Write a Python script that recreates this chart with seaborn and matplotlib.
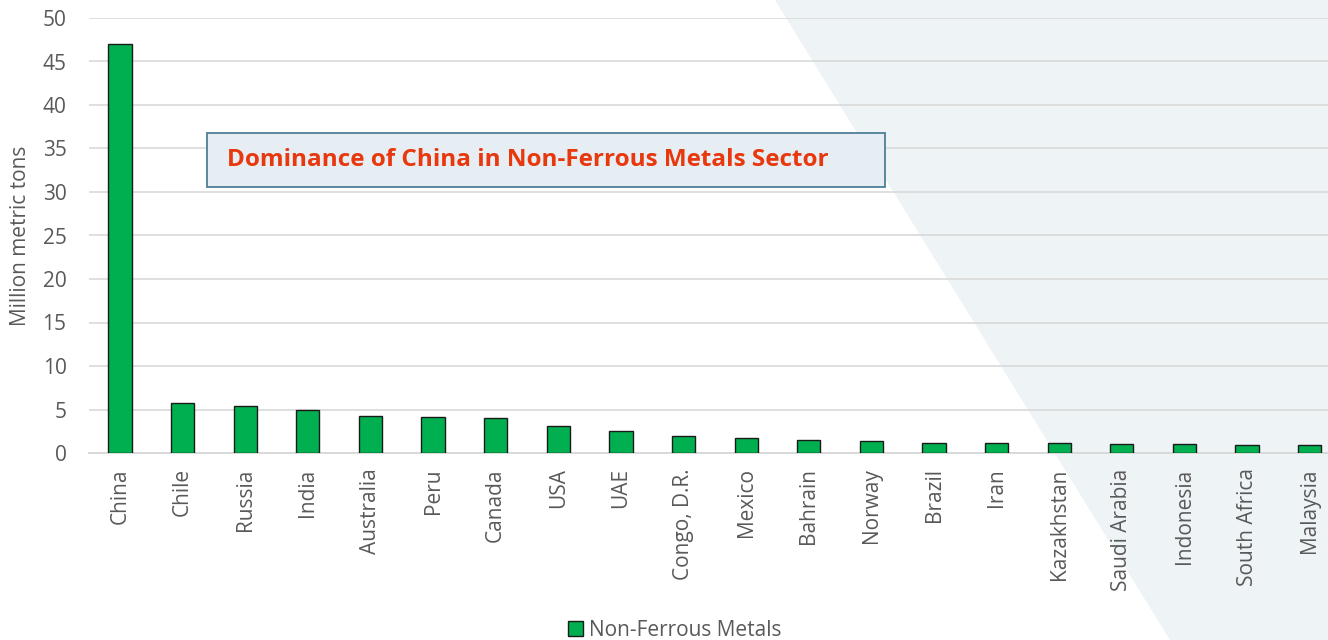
import pandas as pd
import numpy as np
import matplotlib.pyplot as plt
import seaborn as sns
from matplotlib.patches import Polygon, Rectangle

# data
countries = ["China", "Chile", "Russia", "India", "Australia", "Peru", "Canada", "USA", "UAE",
             "Congo, D.R.", "Mexico", "Bahrain", "Norway", "Brazil", "Iran", "Kazakhstan",
             "Saudi Arabia", "Indonesia", "South Africa", "Malaysia"]
production = [47.0, 5.7, 5.4, 5.0, 4.25, 4.1, 4.0, 3.1, 2.5,
              1.9, 1.7, 1.5, 1.35, 1.2, 1.1, 1.1,
              1.05, 1.0, 0.95, 0.9]
series_name = "Non-Ferrous Metals"
y_ticks = [0, 5, 10, 15, 20, 25, 30, 35, 40, 45, 50]

df = pd.DataFrame({"Country": countries, "Production": production})

sns.set_style("white")
plt.rcParams["font.family"] = ["Open Sans", "DejaVu Sans"]

fig = plt.figure(figsize=(13.28, 6.4), dpi=100)
fig.patch.set_facecolor("white")

# light diagonal panel behind the right side of the chart
W, H = 1328, 640
bg = Polygon([(775 / W, 1), (1, 1), (1, 0), (1170 / W, 0)], closed=True,
             transform=fig.transFigure, facecolor="#EEF3F6", edgecolor="none", zorder=0)
fig.patches.append(bg)

ax = fig.add_axes([88.7 / W, (640 - 453) / H, (1341 - 88.7) / W, (453 - 18) / H])
ax.set_facecolor("none")
ax.set_zorder(1)

sns.barplot(data=df, x="Country", y="Production", color="#00B050", width=0.37,
            edgecolor="#1a1a1a", linewidth=1.0, saturation=1, ax=ax, zorder=3)

ax.set_ylim(0, 50)
ax.set_xlim(-0.5, len(countries) - 0.5)
ax.set_yticks(y_ticks)
ax.yaxis.grid(True, color="#D9D9D9", linewidth=1.2, zorder=0)
ax.set_axisbelow(True)
for s in ["left", "right", "top"]:
    ax.spines[s].set_visible(False)
ax.spines["bottom"].set_color("#D9D9D9")
ax.spines["bottom"].set_linewidth(1.4)

ax.tick_params(axis="x", length=0, pad=11, labelsize=15, labelcolor="#595959", labelrotation=90)
ax.tick_params(axis="y", length=0, pad=16, labelsize=15, labelcolor="#595959")
ax.set_xlabel("")
ax.set_ylabel("Million metric tons", fontsize=15, color="#595959")
ax.yaxis.set_label_coords(-58 / (1341 - 88.7), 0.5)

# annotation box
box = Rectangle((207 / W, (640 - 187) / H), (885 - 207) / W, (187 - 133) / H,
                transform=fig.transFigure, facecolor="#E6EEF4", edgecolor="#4E7E98",
                linewidth=1.3, zorder=5)
fig.patches.append(box)
fig.text(227 / W, (640 - 160) / H, "Dominance of China in Non-Ferrous Metals Sector",
         color="#E8380D", fontsize=17.5, fontweight="bold", va="center", ha="left", zorder=6)

# legend at the bottom
handle = Rectangle((0, 0), 1, 1, facecolor="#00B050", edgecolor="#1a1a1a", linewidth=1.0)
fig.legend([handle], [series_name], loc="center", bbox_to_anchor=(675 / W, (640 - 630) / H),
           frameon=False, fontsize=15, labelcolor="#595959", handlelength=0.7,
           handleheight=0.7, handletextpad=0.3)

fig.savefig("out.png", dpi=100)
